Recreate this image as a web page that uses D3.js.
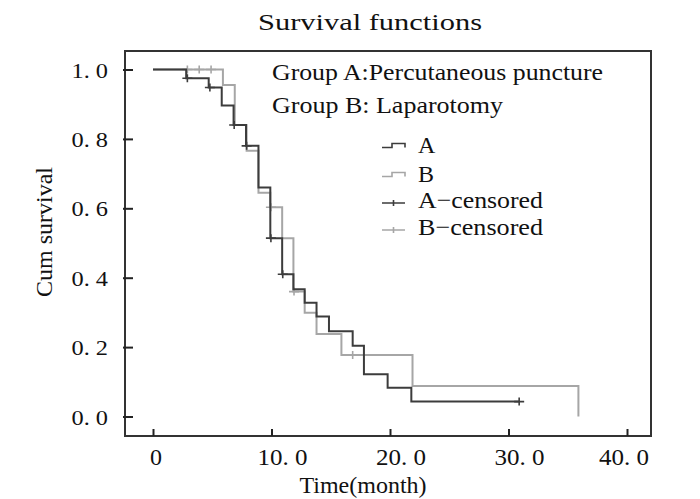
<!DOCTYPE html>
<html>
<head>
<meta charset="utf-8">
<script src="https://cdn.jsdelivr.net/npm/d3@7"></script>
<style>
  body { margin: 0; background: #fff; }
  text { font-family: "Liberation Serif", "DejaVu Serif", serif; fill: #111; }
</style>
</head>
<body>
<svg></svg>
<script>
let width = 700, height = 499;

// Kaplan-Meier steps (time in months, cumulative survival)
const timeA = [0, 2.8, 4.7, 5.8, 6.8, 7.85, 8.9, 9.9, 10.9, 11.85, 12.8, 13.8, 14.85, 16.85, 17.8, 19.8, 21.8, 30.9];
const survA = [1.0, 0.975, 0.948, 0.896, 0.84, 0.78, 0.66, 0.514, 0.41, 0.367, 0.328, 0.288, 0.246, 0.204, 0.122, 0.083, 0.043, 0.043];
const censorA = [2.9, 4.8, 6.85, 7.9, 9.95, 10.95, 30.9];

const timeB = [0, 5.9, 6.9, 7.9, 8.9, 9.9, 10.9, 11.85, 12.8, 13.8, 15.9, 21.9, 35.9];
const survB = [1.0, 0.955, 0.84, 0.766, 0.645, 0.603, 0.514, 0.36, 0.299, 0.238, 0.177, 0.088, 0];
const censorB = [2.9, 3.9, 4.9, 9.95, 11.9, 16.85];

const xTicks = [0, 10, 20, 30, 40];
const yTicks = [0, 0.2, 0.4, 0.6, 0.8, 1.0];

const legendItems = ["A", "B", "A\u2212censored", "B\u2212censored"];
const groupNotes = ["Group A:Percutaneous puncture", "Group B: Laparotomy"];

const colorA = "#3c3c3c", colorB = "#a6a6a6";

let svg = d3.select("svg")
    .attr("width", width)
    .attr("height", height);

// plot frame
const boxLeft = 125, boxRight = 651, boxTop = 51, boxBottom = 436;

let x = d3.scaleLinear().domain([0, 40]).range([153, 627]);
let y = d3.scaleLinear().domain([0, 1]).range([416.5, 69.5]);

svg.append("rect")
    .attr("x", boxLeft).attr("y", boxTop)
    .attr("width", boxRight - boxLeft).attr("height", boxBottom - boxTop)
    .attr("fill", "none")
    .attr("stroke", "#333")
    .attr("stroke-width", 2);

// Y axis
let yAxis = svg.append("g")
    .attr("transform", `translate(${boxLeft},0)`)
    .call(d3.axisLeft(y).tickValues(yTicks).tickSize(-8).tickFormat(""));
yAxis.select(".domain").remove();
yAxis.selectAll(".tick line").attr("x1", -2).attr("stroke", "#222").attr("stroke-width", 2);

svg.append("g").selectAll("text")
    .data(yTicks)
    .enter()
    .append("text")
    .attr("x", 71.5)
    .attr("y", d => y(d) + 8)
    .attr("font-size", "21px")
    .attr("textLength", 36.5)
    .attr("lengthAdjust", "spacingAndGlyphs")
    .text(d => d3.format(".1f")(d).replace(".", ". "));

// X axis
let xAxis = svg.append("g")
    .attr("transform", `translate(0,${boxBottom})`)
    .call(d3.axisBottom(x).tickValues(xTicks).tickSize(-7).tickFormat(""));
xAxis.select(".domain").remove();
xAxis.selectAll(".tick line").attr("stroke", "#222").attr("stroke-width", 2);

svg.append("g").selectAll("text")
    .data(xTicks)
    .enter()
    .append("text")
    .attr("x", d => d === 0 ? x(d) - 3 : Math.min(x(d) - 14, boxRight - 2 - 50))
    .attr("y", 465)
    .attr("font-size", "24px")
    .attr("textLength", d => d === 0 ? null : 50)
    .attr("lengthAdjust", "spacingAndGlyphs")
    .text(d => d === 0 ? "0" : d3.format(".1f")(d).replace(".", ". "));

// titles
svg.append("text")
    .attr("x", 258).attr("y", 30)
    .attr("font-size", "24px")
    .attr("textLength", 224)
    .attr("lengthAdjust", "spacingAndGlyphs")
    .text("Survival functions");

svg.append("text")
    .attr("x", 363).attr("y", 493)
    .attr("text-anchor", "middle")
    .attr("font-size", "24px")
    .text("Time(month)");

svg.append("text")
    .attr("transform", "translate(52,232) rotate(-90)")
    .attr("text-anchor", "middle")
    .attr("font-size", "24px")
    .text("Cum survival");

// survival curves
let line = d3.line()
    .x(d => x(d[0]))
    .y(d => y(d[1]))
    .curve(d3.curveStepAfter);

function stepValue(times, surv, t) {
    let i = d3.bisectRight(times, t) - 1;
    return surv[Math.max(i, 0)];
}

const curves = [
    {times: timeA, surv: survA, censor: censorA, color: colorA},
    {times: timeB, surv: survB, censor: censorB, color: colorB}
];

// draw B first so A sits on top
curves.slice().reverse().forEach(c => {
    svg.append("path")
        .datum(d3.zip(c.times, c.surv))
        .attr("d", line)
        .attr("fill", "none")
        .attr("stroke", c.color)
        .attr("stroke-width", 2);

    svg.append("g").selectAll("path")
        .data(c.censor)
        .enter()
        .append("path")
        .attr("d", t => {
            let cx = x(t), cy = y(stepValue(c.times, c.surv, t));
            return `M${cx - 5},${cy}H${cx + 5}M${cx},${cy - 4}V${cy + 4}`;
        })
        .attr("stroke", c.color)
        .attr("stroke-width", 1.6)
        .attr("fill", "none");
});

// notes
svg.append("g").selectAll("text")
    .data(groupNotes)
    .enter()
    .append("text")
    .attr("x", 272)
    .attr("y", (d, i) => 80 + i * 33)
    .attr("font-size", "24px")
    .attr("textLength", (d, i) => i === 0 ? 331 : 231)
    .attr("lengthAdjust", "spacingAndGlyphs")
    .text(d => d);

// Legend
const legendY = [152.5, 181.5, 208, 235];
const legend = svg.append("g");

legendItems.forEach((name, i) => {
    let ly = legendY[i];
    let col = (i % 2 === 0) ? colorA : colorB;
    if (i < 2) {
        legend.append("path")
            .attr("d", `M382,${ly - 5}H392V${ly - 9}H405V${ly - 5}`)
            .attr("fill", "none")
            .attr("stroke", col)
            .attr("stroke-width", 1.6);
    } else {
        legend.append("path")
            .attr("d", `M382,${ly - 5}H405M393.5,${ly - 8}V${ly - 2}`)
            .attr("fill", "none")
            .attr("stroke", col)
            .attr("stroke-width", 1.6);
    }
    legend.append("text")
        .attr("x", 418)
        .attr("y", ly)
        .attr("font-size", "24px")
        .attr("textLength", i < 2 ? null : 125)
        .attr("lengthAdjust", "spacingAndGlyphs")
        .text(name);
});
</script>
</body>
</html>
